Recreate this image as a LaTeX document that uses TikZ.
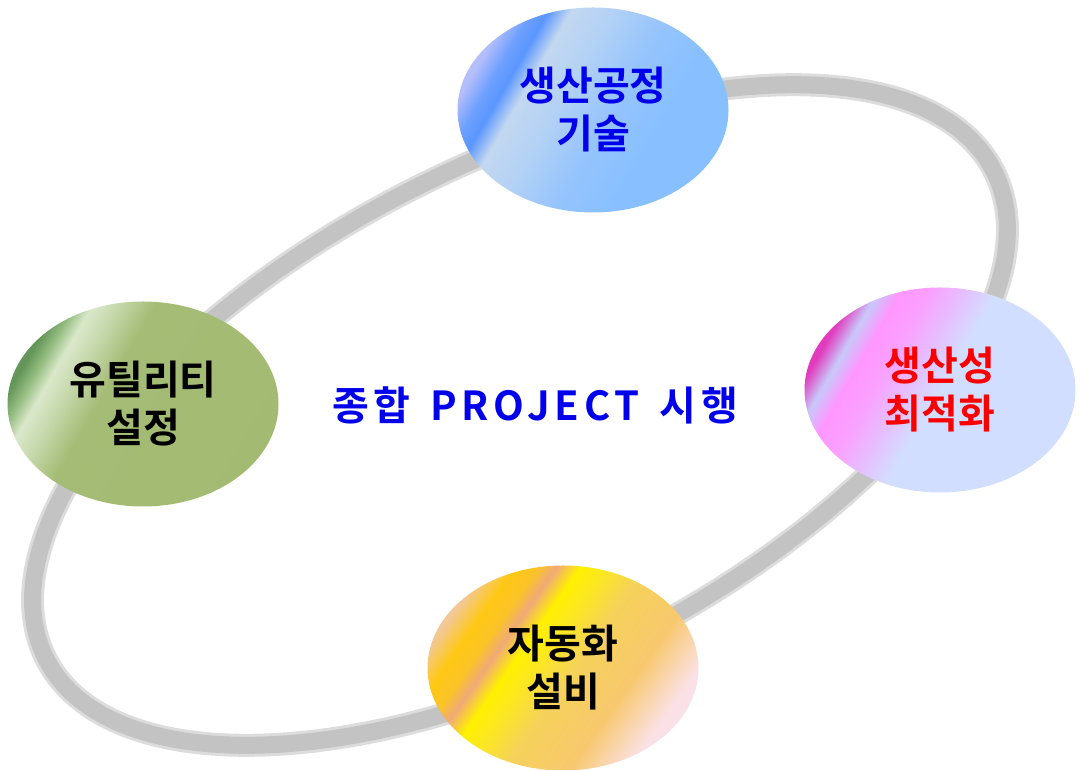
\documentclass[tikz,border=0pt]{standalone}
\usepackage{fontspec}
\setmainfont{Noto Sans CJK KR}[BoldFont={Noto Sans CJK KR Bold}]
\usetikzlibrary{shapes.geometric}

\definecolor{ringout}{RGB}{220,220,220}
\definecolor{ringin}{RGB}{195,195,195}
\definecolor{tblue}{RGB}{0,0,235}
\definecolor{tred}{RGB}{250,0,0}

\pgfdeclarehorizontalshading{shadeblue}{100bp}{color(0bp)=(rgb,255:red,180;green,190;blue,250);
  color(25bp)=(rgb,255:red,180;green,190;blue,250); color(29bp)=(rgb,255:red,110;green,160;blue,255);
  color(32bp)=(rgb,255:red,90;green,150;blue,255); color(36bp)=(rgb,255:red,195;green,215;blue,240);
  color(43bp)=(rgb,255:red,180;green,210;blue,245); color(53bp)=(rgb,255:red,150;green,196;blue,252);
  color(63bp)=(rgb,255:red,136;green,192;blue,255); color(100bp)=(rgb,255:red,136;green,192;blue,255)}
\pgfdeclarehorizontalshading{shadepink}{100bp}{color(0bp)=(rgb,255:red,225;green,60;blue,190);
  color(25bp)=(rgb,255:red,225;green,60;blue,190); color(29bp)=(rgb,255:red,200;green,200;blue,250);
  color(33bp)=(rgb,255:red,255;green,150;blue,255); color(38bp)=(rgb,255:red,250;green,160;blue,255);
  color(44bp)=(rgb,255:red,230;green,190;blue,255); color(50bp)=(rgb,255:red,210;green,222;blue,255);
  color(100bp)=(rgb,255:red,210;green,222;blue,255)}
\pgfdeclarehorizontalshading{shadegold}{100bp}{color(0bp)=(rgb,255:red,242;green,200;blue,150);
  color(25bp)=(rgb,255:red,242;green,200;blue,150); color(30bp)=(rgb,255:red,255;green,200;blue,20);
  color(34bp)=(rgb,255:red,250;green,195;blue,40); color(37bp)=(rgb,255:red,240;green,170;blue,120);
  color(41bp)=(rgb,255:red,255;green,240;blue,0); color(45bp)=(rgb,255:red,252;green,232;blue,30);
  color(52bp)=(rgb,255:red,245;green,210;blue,90); color(63bp)=(rgb,255:red,248;green,200;blue,110);
  color(73bp)=(rgb,255:red,250;green,225;blue,230); color(100bp)=(rgb,255:red,250;green,225;blue,230)}
\pgfdeclarehorizontalshading{shadegreen}{100bp}{color(0bp)=(rgb,255:red,100;green,150;blue,90);
  color(25bp)=(rgb,255:red,100;green,150;blue,90); color(28bp)=(rgb,255:red,150;green,190;blue,130);
  color(31bp)=(rgb,255:red,218;green,232;blue,202); color(35bp)=(rgb,255:red,200;green,218;blue,175);
  color(42bp)=(rgb,255:red,165;green,188;blue,118); color(100bp)=(rgb,255:red,160;green,185;blue,110)}

\tikzstyle{bubble} = [ellipse, shade, minimum width=271pt, minimum height=205pt, inner sep=0pt,
  align=center, font=\fontsize{40}{48}\selectfont\bfseries]
\tikzstyle{ring} = [line width=23pt, draw=ringout]
\tikzstyle{ringcore} = [line width=17pt, draw=ringin]

\begin{document}
\begin{tikzpicture}[x=1pt, y=1pt]
  \useasboundingbox (0,0) rectangle (1081,770);
  \coordinate (hub) at (520,355);
  \draw[ring, rotate around={27.3:(hub)}] (hub) ellipse (533 and 250);
  \draw[ringcore, rotate around={27.3:(hub)}] (hub) ellipse (533 and 250);
  \node[bubble, shading=shadeblue, shading angle=-30, text=tblue] (process) at (593,660) {생산공정\\기술};
  \node[bubble, shading=shadepink, shading angle=-30, text=tred] (optimum) at (940,380) {생산성\\최적화};
  \node[bubble, shading=shadegold, shading angle=-35] (automation) at (563,102) {자동화\\설비};
  \node[bubble, shading=shadegreen, shading angle=-30] (utility) at (143,366) {유틸리티\\설정};
  \node[text=tblue, font=\fontsize{40}{44}\selectfont\bfseries\addfontfeatures{LetterSpace=12}] (project) at (535,365)
    {종합\hspace{20pt}PROJECT\hspace{20pt}시행};
\end{tikzpicture}
\end{document}
